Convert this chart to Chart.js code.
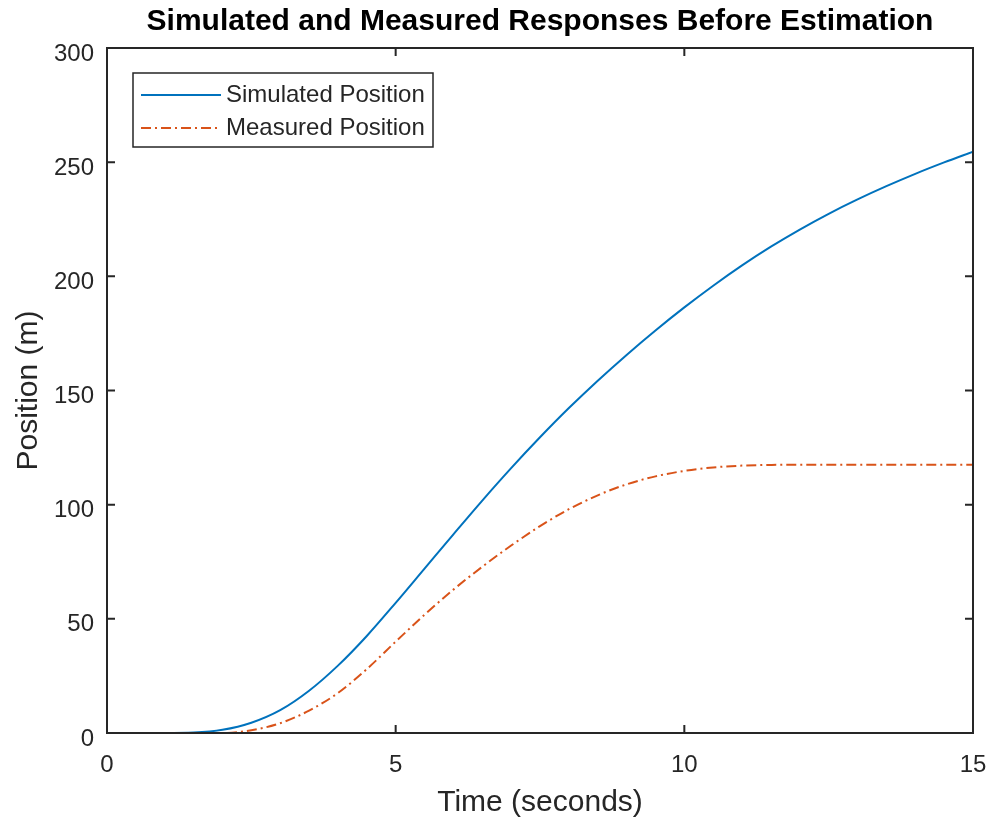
<!DOCTYPE html>
<html>
<head>
<meta charset="utf-8">
<title>Simulated and Measured Responses Before Estimation</title>
<script src="https://cdn.jsdelivr.net/npm/chart.js@4.4.1/dist/chart.umd.min.js"></script>
<style>
  html, body { margin: 0; padding: 0; background: #fff; }
  #wrap { width: 991px; height: 818px; }
</style>
</head>
<body>
<div id="wrap"><canvas id="chart"></canvas></div>
<script>
// data
const timeSec = [0, 0.5, 1, 1.5, 2, 2.5, 3, 3.5, 4, 4.5, 5, 5.5, 6, 6.5, 7, 7.5,
                 8, 8.5, 9, 9.5, 10, 10.5, 11, 11.5, 12, 12.5, 13, 13.5, 14, 14.5, 15];
const simulatedPos = [0, 0, 0, 0.2, 1.4, 4.5, 10, 18.5, 29.5, 42.5, 57, 72, 87, 101.8, 116, 129.5,
                      142.3, 154.3, 165.6, 176.3, 186.4, 195.9, 204.8, 213, 220.5, 227.4, 233.7, 239.5, 244.9, 249.9, 254.6];
const measuredPos = [0, 0, 0, 0, 0, 1.2, 4.3, 9.8, 17.5, 28, 40, 51.8, 62.8, 72.8, 82.1, 90.6,
                     98, 104.1, 108.9, 112.4, 114.8, 116.3, 117.1, 117.4, 117.5, 117.5, 117.5, 117.5, 117.5, 117.5, 117.5];
const xTicks = [0, 5, 10, 15];
const yTicks = [0, 50, 100, 150, 200, 250, 300];
const seriesLabels = ['Simulated Position', 'Measured Position'];

const FONT = '"Liberation Sans", Arial, Helvetica, sans-serif';
const AXIS_COLOR = '#262626';

function toPoints(xs, ys) {
    return xs.map((t, i) => ({ x: t, y: ys[i] }));
}

// box round the axes with inward ticks on all four sides
const axesBox = {
    id: 'axesBox',
    afterDatasetsDraw(chart) {
        const { ctx, chartArea: a, scales: { x, y } } = chart;
        ctx.save();
        ctx.strokeStyle = AXIS_COLOR;
        ctx.lineWidth = 2;
        ctx.strokeRect(a.left, a.top, a.right - a.left, a.bottom - a.top);
        ctx.beginPath();
        x.ticks.forEach(t => {
            const px = x.getPixelForValue(t.value);
            ctx.moveTo(px, a.bottom); ctx.lineTo(px, a.bottom - 8);
            ctx.moveTo(px, a.top); ctx.lineTo(px, a.top + 8);
        });
        y.ticks.forEach(t => {
            const py = y.getPixelForValue(t.value);
            ctx.moveTo(a.left, py); ctx.lineTo(a.left + 8, py);
            ctx.moveTo(a.right, py); ctx.lineTo(a.right - 8, py);
        });
        ctx.stroke();
        ctx.restore();
    }
};

// legend inside the axes, top left
const innerLegend = {
    id: 'innerLegend',
    afterDraw(chart) {
        const { ctx, chartArea: a } = chart;
        const bx = a.left + 26, by = a.top + 25, bw = 300, bh = 74;
        ctx.save();
        ctx.fillStyle = '#fff';
        ctx.fillRect(bx, by, bw, bh);
        ctx.strokeStyle = AXIS_COLOR;
        ctx.lineWidth = 1.5;
        ctx.strokeRect(bx, by, bw, bh);
        ctx.font = '24px ' + FONT;
        ctx.textBaseline = 'middle';
        chart.data.datasets.forEach((ds, i) => {
            const rowY = by + 22 + i * 33;
            ctx.strokeStyle = ds.borderColor;
            ctx.lineWidth = ds.borderWidth;
            ctx.setLineDash(ds.borderDash || []);
            ctx.beginPath();
            ctx.moveTo(bx + 8, rowY);
            ctx.lineTo(bx + 88, rowY);
            ctx.stroke();
            ctx.setLineDash([]);
            ctx.fillStyle = AXIS_COLOR;
            ctx.fillText(ds.label, bx + 93, rowY);
        });
        ctx.restore();
    }
};

const ctx = document.getElementById('chart').getContext('2d');
new Chart(ctx, {
    type: 'line',
    data: {
        datasets: [
            {
                label: seriesLabels[0],
                data: toPoints(timeSec, simulatedPos),
                borderColor: '#0072BD',
                borderWidth: 2,
                pointRadius: 0,
                cubicInterpolationMode: 'monotone',
                fill: false
            },
            {
                label: seriesLabels[1],
                data: toPoints(timeSec, measuredPos),
                borderColor: '#D95319',
                borderWidth: 2,
                borderDash: [10, 4, 2, 4],
                pointRadius: 0,
                cubicInterpolationMode: 'monotone',
                fill: false
            }
        ]
    },
    options: {
        responsive: true,
        maintainAspectRatio: false,
        animation: false,
        layout: { padding: { right: 18 } },
        plugins: {
            legend: { display: false },
            tooltip: { enabled: false },
            title: {
                display: true,
                text: 'Simulated and Measured Responses Before Estimation',
                color: '#000',
                fullSize: false,
                font: { family: FONT, size: 30, weight: 'bold', lineHeight: 1.2 },
                padding: { top: 4, bottom: 8 }
            }
        },
        scales: {
            x: {
                type: 'linear',
                min: 0,
                max: 15,
                afterBuildTicks: s => { s.ticks = xTicks.map(v => ({ value: v })); },
                afterFit: s => { s.height = 85; s.paddingLeft = 0; s.paddingRight = 0; },
                grid: { display: false },
                border: { display: false },
                ticks: { color: AXIS_COLOR, padding: 10, maxRotation: 0, font: { family: FONT, size: 24 } },
                title: {
                    display: true,
                    text: 'Time (seconds)',
                    color: AXIS_COLOR,
                    font: { family: FONT, size: 30, lineHeight: 1 },
                    padding: { top: 0, bottom: 0 }
                }
            },
            y: {
                min: 0,
                max: 300,
                afterBuildTicks: s => { s.ticks = yTicks.map(v => ({ value: v })); },
                afterFit: s => { s.width = 107; },
                grid: { display: false },
                border: { display: false },
                ticks: { color: AXIS_COLOR, padding: 5, labelOffset: 6, font: { family: FONT, size: 24 } },
                title: {
                    display: true,
                    text: 'Position (m)',
                    color: AXIS_COLOR,
                    font: { family: FONT, size: 30, lineHeight: 1 },
                    padding: { top: 14, bottom: 0 }
                }
            }
        }
    },
    plugins: [axesBox, innerLegend]
});
</script>
</body>
</html>
